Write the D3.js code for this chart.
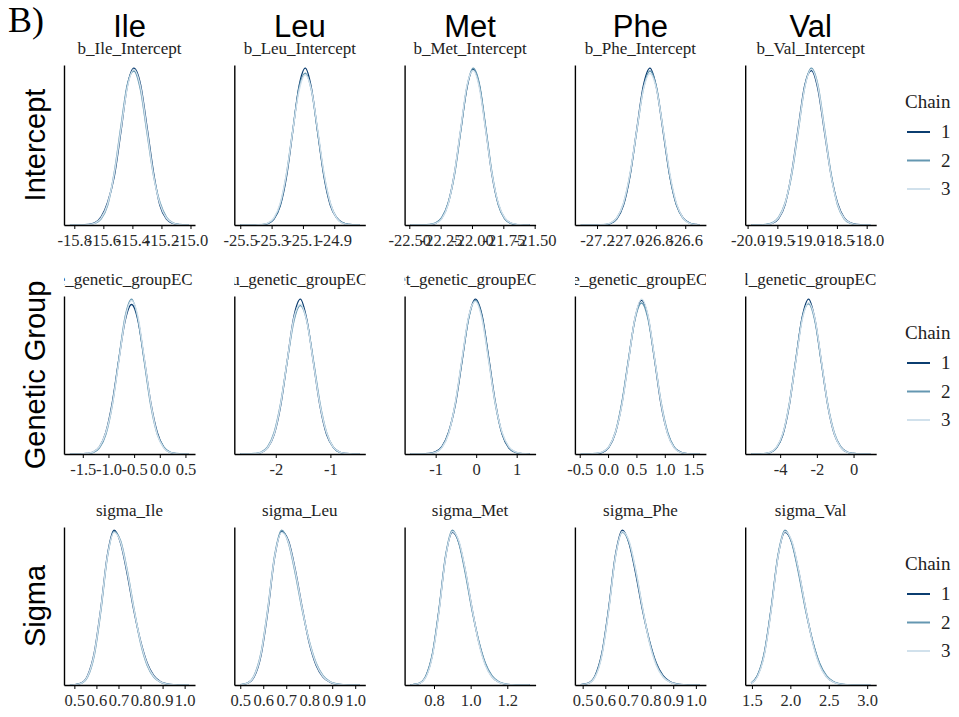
<!DOCTYPE html>
<html>
<head>
<meta charset="utf-8">
<script src="https://cdn.jsdelivr.net/npm/d3@7"></script>
<style>
  body { margin: 0; background: #fff; }
  svg { display: block; }
</style>
</head>
<body>
<svg id="chart" width="959" height="717"></svg>
<script>
// ---------------------------------------------------------------------------
// Posterior density overlays for three MCMC chains:
// columns = amino acids, rows = model parameter (intercept, genetic group, sigma)
// ---------------------------------------------------------------------------
const residues = ["Ile", "Leu", "Met", "Phe", "Val"];
const rowLabels = ["Intercept", "Genetic Group", "Sigma"];
const chainIds = ["1", "2", "3"];
const chainColors = ["#0b3d70", "#6497b1", "#d1e1ec"];

// Tick labels on each panel's x axis
const interceptTicks = [
  ["-15.8", "-15.6", "-15.4", "-15.2", "-15.0"],
  ["-25.5", "-25.3", "-25.1", "-24.9"],
  ["-22.50", "-22.25", "-22.00", "-21.75", "-21.50"],
  ["-27.2", "-27.0", "-26.8", "-26.6"],
  ["-20.0", "-19.5", "-19.0", "-18.5", "-18.0"]
];
const groupTicks = [
  ["-1.5", "-1.0", "-0.5", "0.0", "0.5"],
  ["-2", "-1"],
  ["-1", "0", "1"],
  ["-0.5", "0.0", "0.5", "1.0", "1.5"],
  ["-4", "-2", "0"]
];
const sigmaTicks = [
  ["0.5", "0.6", "0.7", "0.8", "0.9", "1.0"],
  ["0.5", "0.6", "0.7", "0.8", "0.9", "1.0"],
  ["0.8", "1.0", "1.2"],
  ["0.5", "0.6", "0.7", "0.8", "0.9", "1.0"],
  ["1.5", "2.0", "2.5", "3.0"]
];

// Density estimates: evaluation points and relative density of chains 1, 2, 3
const xIleIntercept = [-15.83, -15.75, -15.705, -15.66, -15.615, -15.57, -15.525, -15.48, -15.435, -15.39, -15.345, -15.30, -15.255, -15.21, -15.165, -15.12, -15.075, -15.03, -15.01];
const dIleIntercept = [
  [0, 0.000, 0.003, 0.013, 0.052, 0.146, 0.310, 0.590, 0.885, 1.000, 0.900, 0.628, 0.336, 0.124, 0.038, 0.010, 0.002, 0.000, 0],
  [0, 0.000, 0.002, 0.010, 0.039, 0.127, 0.334, 0.622, 0.895, 0.982, 0.865, 0.592, 0.318, 0.143, 0.049, 0.014, 0.003, 0.000, 0],
  [0, 0.000, 0.002, 0.011, 0.045, 0.137, 0.327, 0.604, 0.876, 0.992, 0.885, 0.610, 0.318, 0.133, 0.043, 0.012, 0.002, 0.000, 0]
];
const xLeuIntercept = [-25.50, -25.405, -25.365, -25.325, -25.285, -25.245, -25.205, -25.165, -25.125, -25.085, -25.045, -25.005, -24.965, -24.925, -24.885, -24.845, -24.805, -24.765, -24.74];
const dLeuIntercept = [
  [0, 0.000, 0.001, 0.009, 0.038, 0.124, 0.314, 0.608, 0.900, 1.018, 0.884, 0.596, 0.310, 0.128, 0.047, 0.013, 0.003, 0.000, 0],
  [0, 0.000, 0.002, 0.010, 0.041, 0.131, 0.330, 0.615, 0.890, 0.985, 0.870, 0.598, 0.322, 0.140, 0.047, 0.013, 0.003, 0.000, 0],
  [0, 0.000, 0.003, 0.012, 0.046, 0.142, 0.335, 0.610, 0.870, 0.975, 0.872, 0.612, 0.333, 0.141, 0.045, 0.011, 0.002, 0.000, 0]
];
const xMetIntercept = [-22.49, -22.39, -22.34, -22.29, -22.24, -22.19, -22.14, -22.09, -22.04, -21.99, -21.94, -21.89, -21.84, -21.79, -21.74, -21.69, -21.64, -21.59, -21.54];
const dMetIntercept = [
  [0, 0.000, 0.002, 0.011, 0.045, 0.137, 0.327, 0.604, 0.876, 0.992, 0.885, 0.610, 0.318, 0.133, 0.043, 0.012, 0.002, 0.000, 0],
  [0, 0.000, 0.003, 0.013, 0.048, 0.140, 0.318, 0.598, 0.880, 1.000, 0.895, 0.620, 0.330, 0.128, 0.040, 0.010, 0.002, 0.000, 0],
  [0, 0.000, 0.002, 0.010, 0.041, 0.131, 0.330, 0.615, 0.890, 0.985, 0.870, 0.598, 0.322, 0.140, 0.047, 0.013, 0.003, 0.000, 0]
];
const xPheIntercept = [-27.31, -27.20, -27.155, -27.11, -27.065, -27.02, -26.975, -26.93, -26.885, -26.84, -26.795, -26.75, -26.705, -26.66, -26.615, -26.57, -26.525, -26.50];
const dPheIntercept = [
  [0, 0.000, 0.001, 0.009, 0.040, 0.128, 0.320, 0.612, 0.895, 1.010, 0.880, 0.600, 0.315, 0.130, 0.046, 0.012, 0.003, 0],
  [0, 0.000, 0.002, 0.011, 0.045, 0.137, 0.327, 0.604, 0.876, 0.992, 0.885, 0.610, 0.318, 0.133, 0.043, 0.012, 0.002, 0],
  [0, 0.000, 0.003, 0.012, 0.046, 0.142, 0.335, 0.610, 0.870, 0.975, 0.872, 0.612, 0.333, 0.141, 0.045, 0.011, 0.002, 0]
];
const xValIntercept = [-19.94, -19.81, -19.70, -19.59, -19.48, -19.37, -19.26, -19.15, -19.04, -18.93, -18.82, -18.71, -18.60, -18.49, -18.38, -18.27, -18.16, -18.05, -17.94];
const dValIntercept = [
  [0, 0.000, 0.002, 0.010, 0.041, 0.131, 0.330, 0.615, 0.890, 0.985, 0.870, 0.598, 0.322, 0.140, 0.047, 0.013, 0.003, 0.000, 0],
  [0, 0.000, 0.003, 0.013, 0.048, 0.140, 0.318, 0.598, 0.880, 1.000, 0.895, 0.620, 0.330, 0.128, 0.040, 0.010, 0.002, 0.000, 0],
  [0, 0.000, 0.002, 0.011, 0.045, 0.137, 0.327, 0.604, 0.876, 0.992, 0.885, 0.610, 0.318, 0.133, 0.043, 0.012, 0.002, 0.000, 0]
];

const xIleGroup = [-1.75, -1.55, -1.425, -1.30, -1.175, -1.05, -0.925, -0.80, -0.675, -0.55, -0.425, -0.30, -0.175, -0.05, 0.075, 0.20, 0.325, 0.45, 0.57];
const dIleGroup = [
  [0, 0.000, 0.003, 0.012, 0.046, 0.142, 0.335, 0.610, 0.870, 0.975, 0.872, 0.612, 0.333, 0.141, 0.045, 0.011, 0.002, 0.000, 0],
  [0, 0.000, 0.001, 0.009, 0.040, 0.128, 0.320, 0.612, 0.895, 1.010, 0.880, 0.600, 0.315, 0.130, 0.046, 0.012, 0.003, 0.000, 0],
  [0, 0.000, 0.003, 0.013, 0.048, 0.140, 0.318, 0.598, 0.880, 1.000, 0.895, 0.620, 0.330, 0.128, 0.040, 0.010, 0.002, 0.000, 0]
];
const xLeuGroup = [-2.65, -2.51, -2.39, -2.27, -2.15, -2.03, -1.91, -1.79, -1.67, -1.55, -1.43, -1.31, -1.19, -1.07, -0.95, -0.83, -0.71, -0.59, -0.47];
const dLeuGroup = [
  [0, 0.000, 0.001, 0.009, 0.040, 0.128, 0.320, 0.612, 0.900, 1.018, 0.880, 0.600, 0.315, 0.130, 0.046, 0.012, 0.003, 0.000, 0],
  [0, 0.000, 0.003, 0.012, 0.046, 0.142, 0.335, 0.610, 0.870, 0.975, 0.872, 0.612, 0.333, 0.141, 0.045, 0.011, 0.002, 0.000, 0],
  [0, 0.000, 0.002, 0.010, 0.041, 0.131, 0.330, 0.615, 0.890, 0.985, 0.870, 0.598, 0.322, 0.140, 0.047, 0.013, 0.003, 0.000, 0]
];
const xMetGroup = [-1.62, -1.34, -1.175, -1.01, -0.845, -0.68, -0.515, -0.35, -0.185, -0.02, 0.145, 0.31, 0.475, 0.64, 0.805, 0.97, 1.135, 1.30, 1.32];
const dMetGroup = [
  [0, 0.000, 0.003, 0.013, 0.048, 0.140, 0.318, 0.598, 0.880, 1.000, 0.895, 0.620, 0.330, 0.128, 0.040, 0.010, 0.002, 0.000, 0],
  [0, 0.000, 0.002, 0.011, 0.045, 0.137, 0.327, 0.604, 0.876, 0.992, 0.885, 0.610, 0.318, 0.133, 0.043, 0.012, 0.002, 0.000, 0],
  [0, 0.000, 0.002, 0.010, 0.041, 0.131, 0.330, 0.615, 0.890, 0.985, 0.870, 0.598, 0.322, 0.140, 0.047, 0.013, 0.003, 0.000, 0]
];
const xPheGroup = [-0.48, -0.33, -0.215, -0.10, 0.015, 0.13, 0.245, 0.36, 0.475, 0.59, 0.705, 0.82, 0.935, 1.05, 1.165, 1.28, 1.395, 1.51, 1.62];
const dPheGroup = [
  [0, 0.000, 0.002, 0.011, 0.045, 0.137, 0.327, 0.604, 0.876, 0.992, 0.885, 0.610, 0.318, 0.133, 0.043, 0.012, 0.002, 0.000, 0],
  [0, 0.000, 0.003, 0.012, 0.046, 0.142, 0.335, 0.610, 0.870, 0.975, 0.872, 0.612, 0.333, 0.141, 0.045, 0.011, 0.002, 0.000, 0],
  [0, 0.000, 0.003, 0.013, 0.048, 0.140, 0.318, 0.598, 0.880, 1.000, 0.895, 0.620, 0.330, 0.128, 0.040, 0.010, 0.002, 0.000, 0]
];
const xValGroup = [-5.58, -5.25, -4.90, -4.55, -4.20, -3.85, -3.50, -3.15, -2.80, -2.45, -2.10, -1.75, -1.40, -1.05, -0.70, -0.35, 0.00, 0.35, 0.91];
const dValGroup = [
  [0, 0.000, 0.001, 0.009, 0.040, 0.128, 0.320, 0.612, 0.895, 1.015, 0.880, 0.600, 0.315, 0.130, 0.046, 0.012, 0.003, 0.000, 0],
  [0, 0.000, 0.002, 0.010, 0.041, 0.131, 0.330, 0.615, 0.890, 0.985, 0.870, 0.598, 0.322, 0.140, 0.047, 0.013, 0.003, 0.000, 0],
  [0, 0.000, 0.002, 0.011, 0.045, 0.137, 0.327, 0.604, 0.876, 0.992, 0.885, 0.610, 0.318, 0.133, 0.043, 0.012, 0.002, 0.000, 0]
];

const xIleSigma = [0.48, 0.50, 0.53, 0.56, 0.59, 0.62, 0.65, 0.68, 0.71, 0.74, 0.77, 0.80, 0.83, 0.86, 0.89, 0.92, 0.95, 0.98, 1.01, 1.02];
const dIleSigma = [
  [0, 0.002, 0.012, 0.060, 0.205, 0.495, 0.840, 1.000, 0.915, 0.715, 0.480, 0.285, 0.142, 0.060, 0.022, 0.007, 0.002, 0.001, 0.000, 0],
  [0, 0.001, 0.010, 0.052, 0.190, 0.478, 0.828, 0.990, 0.930, 0.738, 0.495, 0.272, 0.128, 0.052, 0.019, 0.006, 0.002, 0.000, 0.000, 0],
  [0, 0.002, 0.011, 0.057, 0.200, 0.490, 0.832, 0.985, 0.920, 0.730, 0.490, 0.280, 0.136, 0.055, 0.020, 0.006, 0.002, 0.000, 0.000, 0]
];
const xLeuSigma = [0.50, 0.53, 0.56, 0.59, 0.62, 0.65, 0.68, 0.71, 0.74, 0.77, 0.80, 0.83, 0.86, 0.89, 0.92, 0.95, 0.98, 1.01, 1.018];
const dLeuSigma = [
  [0.001, 0.010, 0.052, 0.190, 0.478, 0.828, 0.990, 0.930, 0.738, 0.495, 0.272, 0.128, 0.052, 0.019, 0.006, 0.002, 0.000, 0.000, 0],
  [0.002, 0.012, 0.060, 0.205, 0.495, 0.840, 1.000, 0.915, 0.715, 0.480, 0.285, 0.142, 0.060, 0.022, 0.007, 0.002, 0.001, 0.000, 0],
  [0.002, 0.011, 0.057, 0.200, 0.490, 0.832, 0.985, 0.920, 0.730, 0.490, 0.280, 0.136, 0.055, 0.020, 0.006, 0.002, 0.000, 0.000, 0]
];
const xMetSigma = [0.672, 0.684, 0.72, 0.756, 0.792, 0.828, 0.864, 0.90, 0.936, 0.972, 1.008, 1.044, 1.08, 1.116, 1.152, 1.188, 1.224, 1.26, 1.296, 1.322];
const dMetSigma = [
  [0, 0.002, 0.011, 0.057, 0.200, 0.490, 0.832, 0.985, 0.920, 0.730, 0.490, 0.280, 0.136, 0.055, 0.020, 0.006, 0.002, 0.000, 0.000, 0],
  [0, 0.002, 0.012, 0.060, 0.205, 0.495, 0.840, 1.000, 0.915, 0.715, 0.480, 0.285, 0.142, 0.060, 0.022, 0.007, 0.002, 0.001, 0.000, 0],
  [0, 0.001, 0.010, 0.052, 0.190, 0.478, 0.828, 0.990, 0.930, 0.738, 0.495, 0.272, 0.128, 0.052, 0.019, 0.006, 0.002, 0.000, 0.000, 0]
];
const xPheSigma = [0.492, 0.525, 0.555, 0.585, 0.615, 0.645, 0.675, 0.705, 0.735, 0.765, 0.795, 0.825, 0.855, 0.885, 0.915, 0.945, 0.975, 1.005, 1.018];
const dPheSigma = [
  [0.002, 0.012, 0.060, 0.205, 0.495, 0.840, 1.000, 0.915, 0.715, 0.480, 0.285, 0.142, 0.060, 0.022, 0.007, 0.002, 0.001, 0.000, 0],
  [0.002, 0.011, 0.057, 0.200, 0.490, 0.832, 0.985, 0.920, 0.730, 0.490, 0.280, 0.136, 0.055, 0.020, 0.006, 0.002, 0.000, 0.000, 0],
  [0.001, 0.010, 0.052, 0.190, 0.478, 0.828, 0.990, 0.930, 0.738, 0.495, 0.272, 0.128, 0.052, 0.019, 0.006, 0.002, 0.000, 0.000, 0]
];
const xValSigma = [1.49, 1.57, 1.66, 1.75, 1.84, 1.93, 2.02, 2.11, 2.20, 2.29, 2.38, 2.47, 2.56, 2.65, 2.74, 2.83, 2.92, 3.01, 3.04];
const dValSigma = [
  [0.011, 0.057, 0.200, 0.490, 0.832, 0.985, 0.920, 0.730, 0.490, 0.280, 0.136, 0.055, 0.020, 0.006, 0.002, 0.000, 0.000, 0, 0],
  [0.012, 0.060, 0.205, 0.495, 0.840, 1.000, 0.915, 0.715, 0.480, 0.285, 0.142, 0.060, 0.022, 0.007, 0.002, 0.001, 0.000, 0, 0],
  [0.010, 0.052, 0.190, 0.478, 0.828, 0.990, 0.930, 0.738, 0.495, 0.272, 0.128, 0.052, 0.019, 0.006, 0.002, 0.000, 0.000, 0, 0]
];

// ---------------------------------------------------------------------------
// Assemble panel descriptions (row-major)
// ---------------------------------------------------------------------------
const gridX = [
  [xIleIntercept, xLeuIntercept, xMetIntercept, xPheIntercept, xValIntercept],
  [xIleGroup, xLeuGroup, xMetGroup, xPheGroup, xValGroup],
  [xIleSigma, xLeuSigma, xMetSigma, xPheSigma, xValSigma]
];
const gridD = [
  [dIleIntercept, dLeuIntercept, dMetIntercept, dPheIntercept, dValIntercept],
  [dIleGroup, dLeuGroup, dMetGroup, dPheGroup, dValGroup],
  [dIleSigma, dLeuSigma, dMetSigma, dPheSigma, dValSigma]
];
const gridTicks = [interceptTicks, groupTicks, sigmaTicks];
const titleFor = [
  r => `b_${r}_Intercept`,
  r => `b_${r}_genetic_groupEC`,
  r => `sigma_${r}`
];

// ---------------------------------------------------------------------------
// Layout
// ---------------------------------------------------------------------------
const serif = "'Liberation Serif', 'Times New Roman', Times, serif";
const sans = "'Liberation Sans', Arial, Helvetica, sans-serif";
const panelLeft0 = 64, colStep = 170.3, panelW = 131;
const rowTop = [65, 296, 527];
const rowBottom = [225, 454, 685];
const expandFrac = 0.05;

const svg = d3.select("#chart");
const defs = svg.append("defs");

svg.append("text")
  .attr("x", 8).attr("y", 32)
  .attr("font-family", serif).attr("font-size", 36)
  .text("B)");

residues.forEach((r, c) => {
  svg.append("text")
    .attr("x", panelLeft0 + c * colStep + panelW / 2).attr("y", 37)
    .attr("text-anchor", "middle")
    .attr("font-family", sans).attr("font-size", 31)
    .text(r);
});

rowLabels.forEach((lab, ri) => {
  const cy = (rowTop[ri] + rowBottom[ri]) / 2;
  svg.append("text")
    .attr("transform", `translate(45,${cy}) rotate(-90)`)
    .attr("text-anchor", "middle")
    .attr("font-family", sans).attr("font-size", 29)
    .text(lab);
});

const line = d3.line().curve(d3.curveMonotoneX);

for (let ri = 0; ri < 3; ri++) {
  for (let c = 0; c < residues.length; c++) {
    const xs = gridX[ri][c];
    const chains = gridD[ri][c];
    const left = panelLeft0 + c * colStep;
    const [lo, hi] = d3.extent(xs);
    const pad = (hi - lo) * expandFrac;
    const x = d3.scaleLinear().domain([lo - pad, hi + pad]).range([left, left + panelW]);
    const yMax = d3.max(chains, ch => d3.max(ch));
    const y = d3.scaleLinear().domain([0, yMax * 1.02]).range([rowBottom[ri], rowTop[ri]]);

    const g = svg.append("g");

    // strip title (clipped to panel width)
    const clipId = `clip-${ri}-${c}`;
    defs.append("clipPath").attr("id", clipId)
      .append("rect")
      .attr("x", left).attr("y", rowTop[ri] - 30)
      .attr("width", panelW).attr("height", 30);
    const shift = ri === 1 ? -18 : 0;
    g.append("text")
      .attr("clip-path", `url(#${clipId})`)
      .attr("x", left + panelW / 2 + shift)
      .attr("y", rowTop[ri] - 11)
      .attr("text-anchor", "middle")
      .attr("font-family", serif).attr("font-size", 17)
      .attr("fill", "#222")
      .text(titleFor[ri](residues[c]));

    // chain densities, chain 1 first so lighter chains sit on top
    chains.forEach((ch, k) => {
      g.append("path")
        .attr("d", line(xs.map((v, i) => [x(v), y(ch[i])])))
        .attr("fill", "none")
        .attr("stroke", chainColors[k])
        .attr("stroke-width", 1.4)
        .attr("stroke-linejoin", "round");
    });

    // axes
    const labels = gridTicks[ri][c];
    const xAxis = d3.axisBottom(x)
      .tickValues(labels.map(Number))
      .tickFormat((d, i) => labels[i])
      .tickSize(4).tickSizeOuter(0).tickPadding(5);
    const ax = g.append("g").attr("transform", `translate(0,${rowBottom[ri]})`).call(xAxis);
    ax.select(".domain").attr("stroke", "#000").attr("stroke-width", 1.4);
    ax.selectAll(".tick line").attr("stroke", "#000").attr("stroke-width", 1);
    ax.selectAll(".tick text").attr("font-family", serif).attr("font-size", 16.5).attr("fill", "#2a2a2a");

    const yAxis = d3.axisLeft(y).tickValues([]).tickSizeOuter(0);
    const ay = g.append("g").attr("transform", `translate(${left},0)`).call(yAxis);
    ay.select(".domain").attr("stroke", "#000").attr("stroke-width", 1.4);
  }

  // legend for this row
  const lg = svg.append("g").attr("transform", `translate(905,${rowTop[ri]})`);
  lg.append("text").attr("x", 0).attr("y", 43)
    .attr("font-family", serif).attr("font-size", 19).attr("fill", "#222")
    .text("Chain");
  chainIds.forEach((id, k) => {
    const by = 73 + k * 28.5;
    lg.append("line")
      .attr("x1", 2).attr("x2", 25)
      .attr("y1", by - 6).attr("y2", by - 6)
      .attr("stroke", chainColors[k]).attr("stroke-width", 2);
    lg.append("text").attr("x", 36).attr("y", by)
      .attr("font-family", serif).attr("font-size", 19).attr("fill", "#222")
      .text(id);
  });
}
</script>
</body>
</html>
